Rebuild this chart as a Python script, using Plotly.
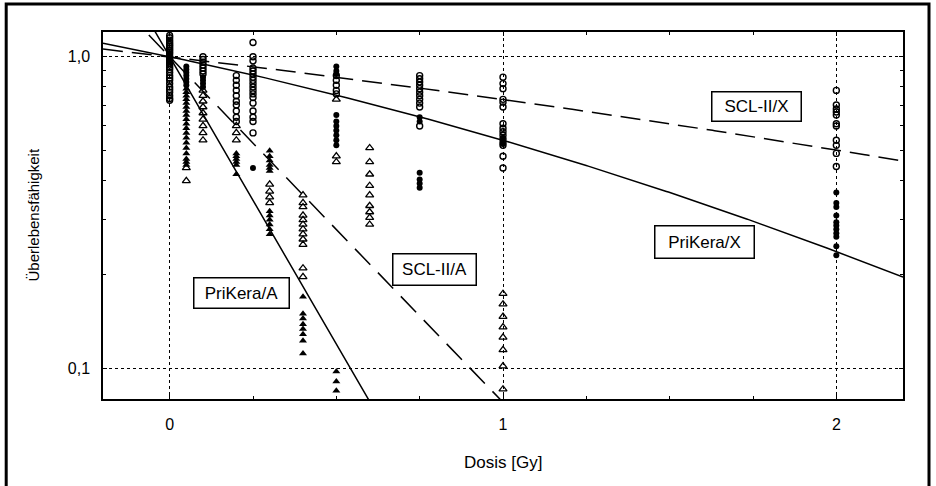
import numpy as np
import plotly.graph_objects as go

# Survival fractions per dose (Gy) for each cell line / radiation type
scl_x = {  # SCL-II, X-rays (open circles)
    0.0: [1.17, 1.15, 1.13, 1.11, 1.095, 1.08, 1.065, 1.05, 1.035, 1.02, 1.0, 0.985,
          0.97, 0.955, 0.94, 0.925, 0.91, 0.89, 0.87, 0.855, 0.84, 0.82, 0.80, 0.785,
          0.77, 0.75, 0.735, 0.725],
    0.1: [1.0, 0.98, 0.96, 0.94, 0.92, 0.90, 0.88],
    0.2: [0.87, 0.84, 0.81, 0.78, 0.75, 0.72, 0.70, 0.67, 0.64, 0.62],
    0.25: [1.11, 1.0, 0.97, 0.92, 0.90, 0.88, 0.86, 0.84, 0.82, 0.80, 0.78, 0.76,
           0.74, 0.71, 0.67, 0.64, 0.62, 0.57],
    0.5: [0.87, 0.84, 0.81, 0.78, 0.76],
    0.75: [0.87, 0.85, 0.83, 0.81, 0.79, 0.77, 0.75, 0.73, 0.71, 0.69, 0.60],
    1.0: [0.86, 0.82, 0.79, 0.73, 0.715, 0.69, 0.61, 0.59, 0.575, 0.56, 0.545, 0.53,
          0.52, 0.48, 0.44],
    2.0: [0.78, 0.70, 0.68, 0.665, 0.65, 0.61, 0.60, 0.54, 0.52, 0.49, 0.445],
}
prikera_x = {  # PriKera, X-rays (filled circles)
    0.0: [1.02, 0.99, 0.97],
    0.05: [0.93, 0.91, 0.89, 0.87, 0.85, 0.83, 0.81],
    0.1: [0.86, 0.84, 0.82, 0.80],
    0.25: [0.44],
    0.5: [0.93, 0.90, 0.88, 0.65, 0.62, 0.60, 0.58, 0.56, 0.54, 0.52],
    0.75: [0.64, 0.62, 0.425, 0.404, 0.392, 0.38],
    1.0: [0.55, 0.535, 0.525],
    2.0: [0.367, 0.34, 0.33, 0.31, 0.295, 0.288, 0.28, 0.272, 0.265, 0.247, 0.231],
}
prikera_a = {  # PriKera, alpha particles (filled triangles)
    0.05: [0.79, 0.77, 0.75, 0.73, 0.71, 0.69, 0.67, 0.65, 0.63, 0.61, 0.59, 0.57,
           0.55, 0.53, 0.51, 0.49, 0.47, 0.46, 0.45],
    0.2: [0.49, 0.48, 0.47, 0.46, 0.45, 0.42],
    0.3: [0.50, 0.48, 0.465, 0.45, 0.44, 0.43, 0.32, 0.31, 0.30, 0.29, 0.28, 0.27],
    0.4: [0.17, 0.15, 0.145, 0.139, 0.134, 0.129, 0.123, 0.112],
    0.5: [0.098, 0.091, 0.085],
}
scl_a = {  # SCL-II, alpha particles (open triangles)
    0.05: [0.44, 0.40],
    0.1: [0.78, 0.75, 0.72, 0.69, 0.66, 0.63, 0.60, 0.57, 0.54],
    0.2: [0.60, 0.57, 0.54],
    0.3: [0.39, 0.37, 0.355, 0.34],
    0.4: [0.36, 0.34, 0.33, 0.31, 0.30, 0.29, 0.28, 0.27, 0.26, 0.25, 0.21, 0.197],
    0.5: [0.73, 0.48, 0.46],
    0.6: [0.51, 0.46, 0.42, 0.386, 0.36, 0.333, 0.318, 0.305, 0.29],
    1.0: [0.174, 0.161, 0.147, 0.136, 0.126, 0.115, 0.102, 0.086],
}

# Linear-quadratic fit parameters: S = exp(-alpha*D - beta*D^2)
fit_params = {
    "PriKera/X": (0.515, 0.102),
    "SCL-II/X": (0.287, 0.0286),
    "PriKera/A": (4.24, 0.0),
    "SCL-II/A": (2.55, 0.0),
}
fit_dash = {
    "PriKera/X": "solid",
    "SCL-II/X": "20px,9px",
    "PriKera/A": "solid",
    "SCL-II/A": "22px,11px",
}
# Label boxes: (dose, survival) at the box centre
label_pos = {
    "SCL-II/X": (1.76, 0.693),
    "PriKera/X": (1.605, 0.254),
    "SCL-II/A": (0.794, 0.2085),
    "PriKera/A": (0.2147, 0.1755),
}
label_size = {
    "SCL-II/X": (84, 24),
    "PriKera/X": (94, 27),
    "SCL-II/A": (78, 26),
    "PriKera/A": (90, 25),
}

x_ticks = [0, 1, 2]
y_ticks = [0.1, 1.0]
y_ticktext = ["0,1", "1,0"]

FONT = "Liberation Sans, Arial, Helvetica, sans-serif"

fig = go.Figure()


def flatten(series):
    xs, ys = [], []
    for d, vals in series.items():
        xs += [d] * len(vals)
        ys += vals
    return xs, ys


marker_styles = [
    (scl_x, dict(symbol="circle-open", size=6, color="black", line=dict(width=1.4, color="black"))),
    (prikera_x, dict(symbol="circle", size=6, color="black")),
    (scl_a, dict(symbol="triangle-up-open", size=7, color="black", line=dict(width=1.3, color="black"))),
    (prikera_a, dict(symbol="triangle-up", size=7, color="black")),
]
for series, mk in marker_styles:
    xs, ys = flatten(series)
    fig.add_trace(go.Scatter(x=xs, y=ys, mode="markers", marker=mk,
                             showlegend=False, hoverinfo="skip"))

dose = np.linspace(-0.2, 2.2, 400)
for name, (alpha, beta) in fit_params.items():
    surv = np.exp(-alpha * dose - beta * dose ** 2)
    fig.add_trace(go.Scatter(x=dose, y=surv, mode="lines",
                             line=dict(color="black", width=1.5, dash=fit_dash[name]),
                             showlegend=False, hoverinfo="skip"))

for name, (d, s) in label_pos.items():
    w, h = label_size[name]
    fig.add_annotation(x=d, y=np.log10(s), xref="x", yref="y", text=name,
                       showarrow=False, font=dict(family=FONT, size=17, color="black"),
                       bgcolor="white", bordercolor="black", borderwidth=1.5,
                       borderpad=2, width=w, height=h, align="center")

# Axis titles
fig.add_annotation(x=0.5, y=-0.172, xref="paper", yref="paper", text="Dosis [Gy]",
                   showarrow=False, font=dict(family=FONT, size=17, color="black"),
                   xanchor="center", yanchor="middle")
fig.add_annotation(x=-0.0875, y=0.5, xref="paper", yref="paper", text="Überlebensfähigkeit",
                   showarrow=False, textangle=-90,
                   font=dict(family=FONT, size=15, color="black"),
                   xanchor="center", yanchor="middle")

# Outer frame around the whole figure
fig.add_shape(type="rect", xref="paper", yref="paper",
              x0=-0.121, x1=1.0325, y0=-0.26, y1=1.0763,
              line=dict(color="black", width=3), fillcolor="rgba(0,0,0,0)", layer="above")

fig.update_xaxes(range=[-0.2, 2.2], tickvals=x_ticks, ticktext=[str(t) for t in x_ticks],
                 showline=True, linecolor="black", linewidth=1.5, mirror="ticks",
                 ticks="inside", ticklen=4, tickcolor="black", ticklabelstandoff=10,
                 showgrid=True, gridcolor="black", gridwidth=1, griddash="dot",
                 zeroline=False, tickfont=dict(family=FONT, size=16, color="black"),
                 minor=dict(ticks="inside", ticklen=3, tickcolor="black",
                            tickvals=[0.25, 0.5, 0.75, 1.25, 1.5, 1.75], showgrid=False))
fig.update_yaxes(type="log", range=[np.log10(0.08), np.log10(1.2)],
                 tickvals=y_ticks, ticktext=y_ticktext,
                 showline=True, linecolor="black", linewidth=1.5, mirror="ticks",
                 ticks="inside", ticklen=4, tickcolor="black", ticklabelstandoff=8,
                 showgrid=True, gridcolor="black", gridwidth=1, griddash="dot",
                 zeroline=False, tickfont=dict(family=FONT, size=16, color="black"),
                 minor=dict(ticks="inside", ticklen=3, tickcolor="black",
                            tickvals=[0.2, 0.3, 0.4, 0.5, 0.6, 0.7, 0.8, 0.9],
                            showgrid=False))

fig.update_layout(width=936, height=486,
                  margin=dict(l=103, r=33, t=32, b=87),
                  paper_bgcolor="white", plot_bgcolor="white",
                  font=dict(family=FONT, color="black"))

fig.write_html("out.html")
